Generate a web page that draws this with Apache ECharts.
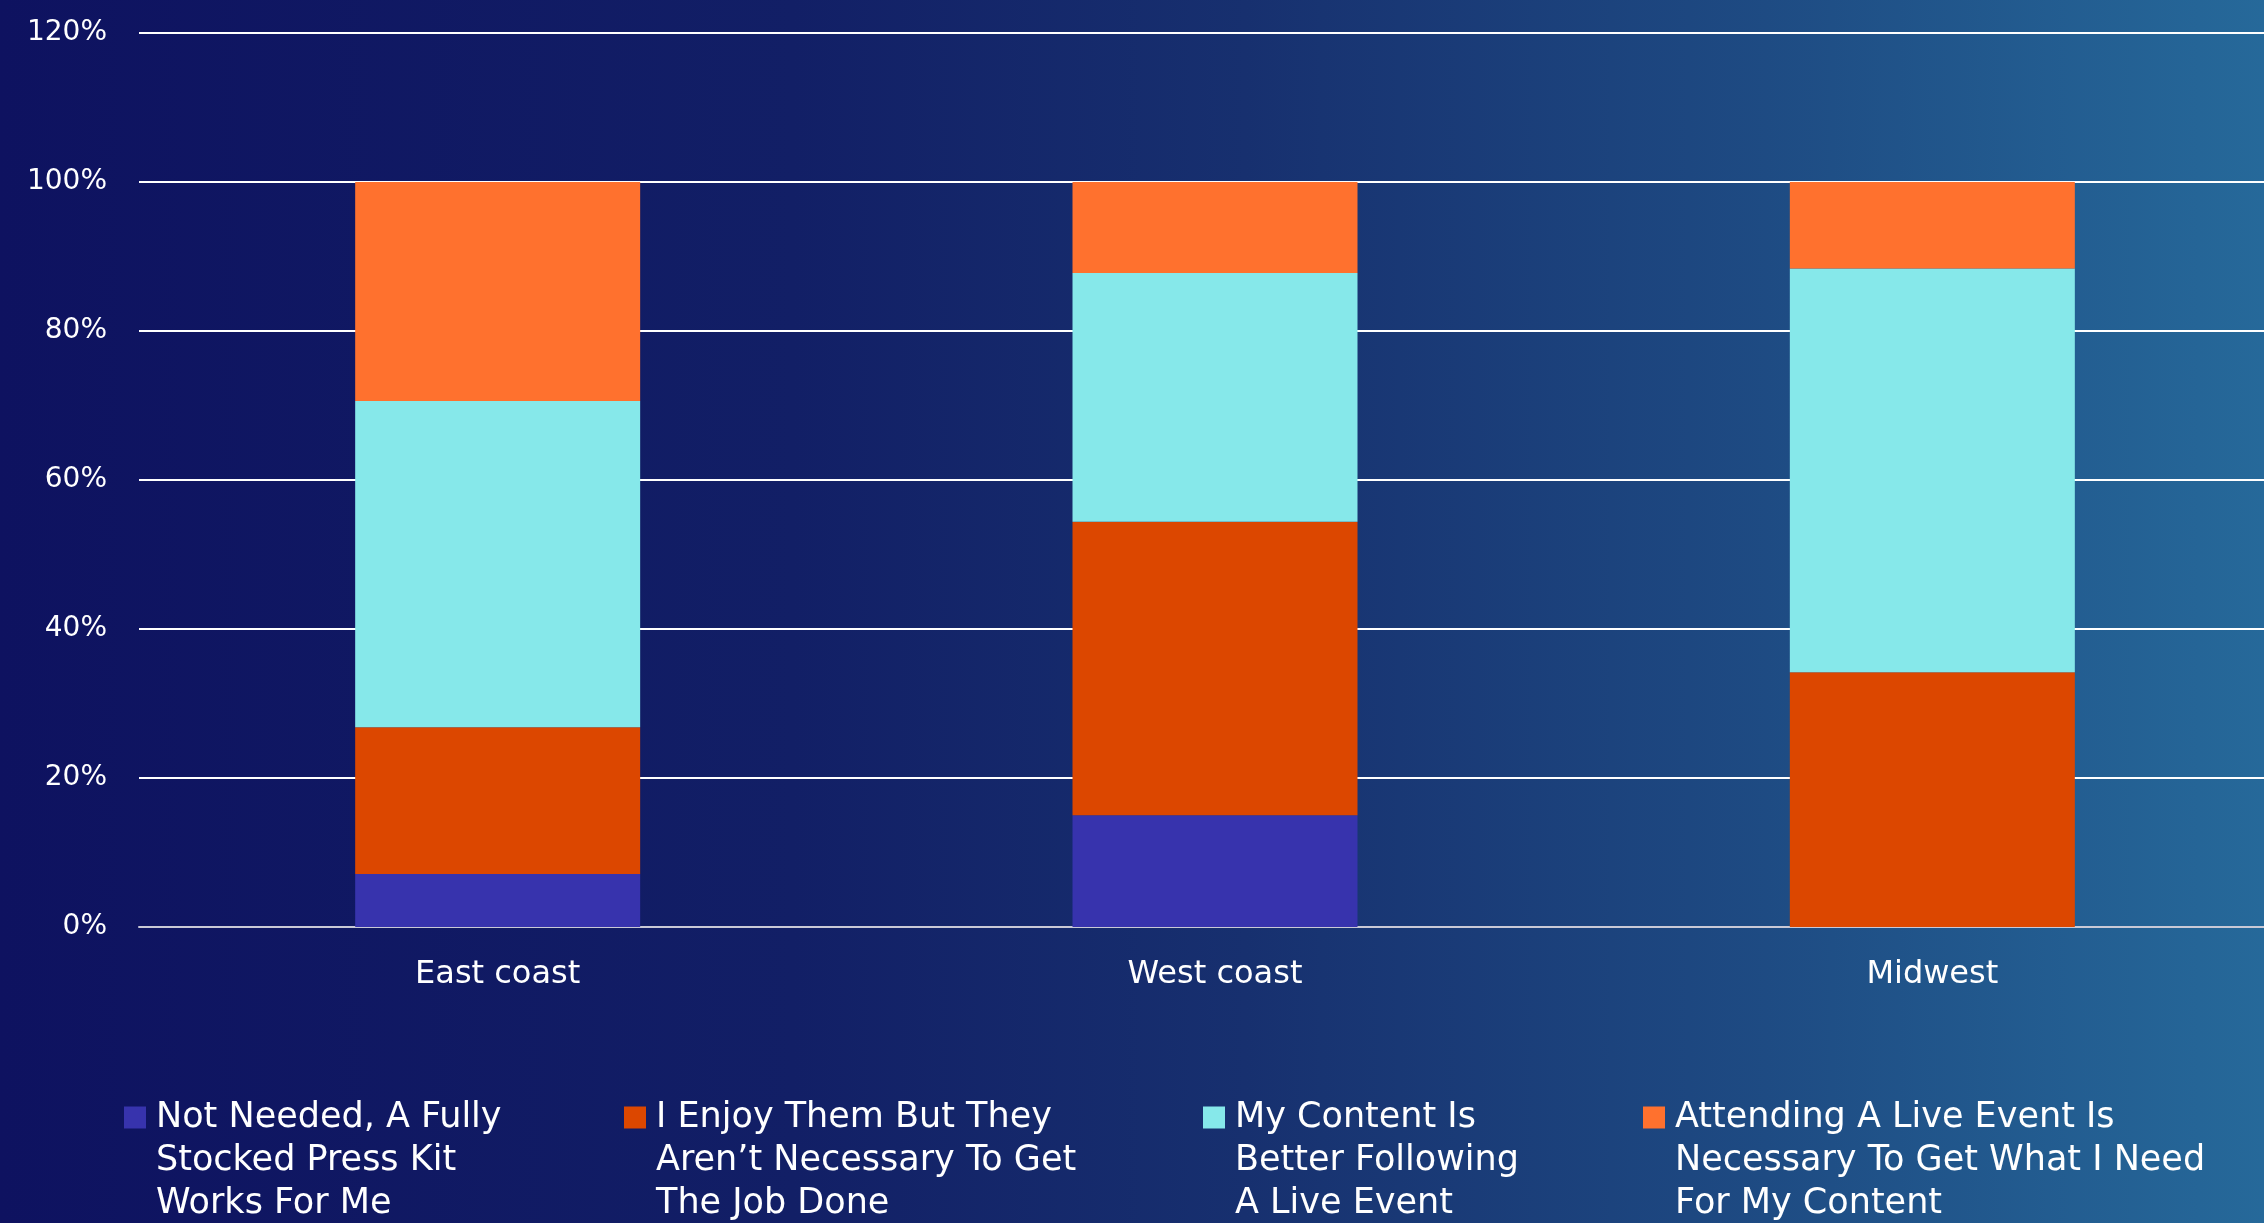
<!DOCTYPE html>
<html>
<head>
<meta charset="utf-8">
<style>
html,body{margin:0;padding:0;width:2264px;height:1223px;overflow:hidden;}
#chart{width:2264px;height:1223px;}
</style>
<script src="https://cdn.jsdelivr.net/npm/echarts@6/dist/echarts.min.js"></script>
</head>
<body>
<div id="chart"></div>
<script>
const categories = ['East coast', 'West coast', 'Midwest'];
const seriesNames = [
  'Not Needed, A Fully\nStocked Press Kit\nWorks For Me',
  'I Enjoy Them But They\nAren\u2019t Necessary To Get\nThe Job Done',
  'My Content Is\nBetter Following\nA Live Event',
  'Attending A Live Event Is\nNecessary To Get What I Need\nFor My Content'
];
const notNeeded = [7.1, 15.0, 0];
const enjoyNotNecessary = [19.7, 39.4, 34.2];
const contentBetter = [43.8, 33.4, 54.2];
const attendingNecessary = [29.4, 12.2, 11.6];
const yTicks = [0, 20, 40, 60, 80, 100, 120];

const colors = ['#3733ad', '#dc4700', '#86e8ea', '#ff712e'];
const values = [notNeeded, enjoyNotNecessary, contentBetter, attendingNecessary];
const legendLeft = [124, 624, 1203, 1643];

const FONT = 'DejaVu Sans';
const chart = echarts.init(document.getElementById('chart'));

const legends = seriesNames.map((name, i) => ({
  data: [name],
  left: legendLeft[i],
  top: 1010,
  padding: 0,
  itemWidth: 22,
  itemHeight: 22,
  icon: 'rect',
  selectedMode: false,
  formatter: n => '\n\n' + n,
  textStyle: {
    color: '#ffffff',
    fontFamily: FONT,
    fontSize: 35,
    lineHeight: 43,
    padding: [0, 0, 0, 5]
  }
}));

chart.setOption({
  backgroundColor: {
    type: 'linear', x: 0, y: 0, x2: 1, y2: 0,
    colorStops: [
      {offset: 0, color: '#0e1260'},
      {offset: 0.35, color: '#121f66'},
      {offset: 0.55, color: '#17306f'},
      {offset: 0.78, color: '#1e4b83'},
      {offset: 1, color: '#26699a'}
    ]
  },
  animation: false,
  color: colors,
  legend: legends,
  grid: {left: 139, right: -27, top: 33, bottom: 296, containLabel: false, outerBoundsMode: 'none'},
  xAxis: {
    type: 'category',
    data: categories,
    axisLine: {show: true, lineStyle: {color: '#c9c9d6', width: 2}},
    axisTick: {show: false},
    axisLabel: {color: '#ffffff', fontFamily: FONT, fontSize: 32, margin: 32}
  },
  yAxis: {
    type: 'value',
    min: yTicks[0],
    max: yTicks[yTicks.length - 1],
    interval: yTicks[1] - yTicks[0],
    axisLine: {show: false},
    axisTick: {show: false},
    splitLine: {lineStyle: {color: '#ffffff', width: 2}},
    axisLabel: {color: '#ffffff', fontFamily: FONT, fontSize: 28, margin: 32, formatter: '{value}%'}
  },
  series: seriesNames.map((name, i) => ({
    name: name,
    type: 'bar',
    stack: 'total',
    barWidth: 285,
    data: values[i],
    itemStyle: {color: colors[i]}
  }))
});
</script>
</body>
</html>
